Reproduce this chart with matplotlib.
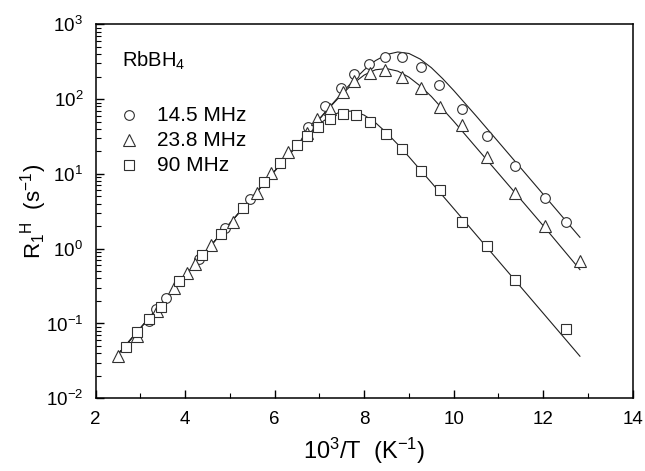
import matplotlib
matplotlib.use('Agg')
import matplotlib.pyplot as plt
from matplotlib.ticker import LogLocator, MultipleLocator, NullFormatter

plt.rcParams['font.family'] = ['Liberation Sans', 'DejaVu Sans']
plt.rcParams['mathtext.fontset'] = 'custom'
plt.rcParams['mathtext.rm'] = 'Liberation Sans'
plt.rcParams['mathtext.it'] = 'Liberation Sans:italic'
plt.rcParams['mathtext.default'] = 'rm'
plt.rcParams['axes.unicode_minus'] = False

# datos medidos (10^3/T, R1)
x_145 = [3.18, 3.35, 3.57, 4.30, 4.90, 5.44, 6.74, 7.12, 7.49, 7.78, 8.10, 8.47,
         8.85, 9.26, 9.66, 10.19, 10.75, 11.36, 12.05, 12.50]
r_145 = [0.108, 0.155, 0.217, 0.72, 1.88, 4.57, 42, 81, 139, 217, 294, 362,
         369, 271, 154, 73.8, 32.4, 12.9, 4.8, 2.3]

x_238 = [2.49, 2.93, 3.36, 3.76, 4.04, 4.22, 4.58, 5.06, 5.60, 5.92, 6.29, 6.72,
         6.95, 7.23, 7.52, 7.78, 8.12, 8.47, 8.85, 9.26, 9.70, 10.19, 10.75,
         11.36, 12.05, 12.82]
r_238 = [0.037, 0.069, 0.147, 0.30, 0.47, 0.62, 1.12, 2.3, 5.6, 10.4, 19.5, 35,
         54, 73, 124, 176, 221, 242, 200, 139, 79, 45, 17,
         5.5, 2.03, 0.69]

x_90 = [2.67, 2.93, 3.18, 3.46, 3.87, 4.37, 4.80, 5.30, 5.77, 6.12, 6.50, 6.73,
        6.97, 7.24, 7.52, 7.81, 8.12, 8.48, 8.85, 9.27, 9.70, 10.19, 10.75,
        11.36, 12.50]
r_90 = [0.049, 0.076, 0.114, 0.168, 0.37, 0.82, 1.57, 3.47, 7.9, 13.9, 24, 32,
        42, 55, 63, 61, 49, 34, 21.4, 11, 6.0, 2.25, 1.09,
        0.38, 0.085]

# curvas de ajuste
xf_145 = [2.5, 4, 5, 6, 6.5, 7, 7.25, 7.5, 7.75, 8, 8.25, 8.5, 8.75, 9, 9.25,
          9.5, 9.75, 10, 10.5, 11, 11.5, 12, 12.82]
rf_145 = [0.0389, 0.437, 2.19, 10.96, 24.5, 54.7, 81.3, 120.2, 174.6, 246.0,
          326.6, 394.5, 426.6, 407.4, 342.8, 263.0, 188.4, 130.3, 59.6, 26.7,
          11.94, 5.33, 1.42]

xf_238 = [2.5, 4, 5, 6, 6.5, 7, 7.25, 7.5, 7.75, 8, 8.25, 8.5, 8.75, 9, 9.25,
          9.5, 10, 10.5, 11, 11.5, 12, 12.82]
rf_238 = [0.0389, 0.437, 2.19, 10.96, 24.4, 54.2, 80.0, 115.6, 161.1, 209.9,
          246.6, 255.9, 236.6, 196.3, 150.0, 108.4, 50.5, 22.6, 10.14, 4.54,
          2.03, 0.525]

xf_90 = [2.5, 4, 5, 6, 6.5, 6.75, 7, 7.25, 7.5, 7.75, 8, 8.25, 8.5, 8.75, 9,
         9.5, 10, 11, 12, 12.82]
rf_90 = [0.0389, 0.437, 2.19, 10.89, 23.7, 34.0, 46.6, 59.6, 68.4, 69.2, 61.0,
         48.4, 35.4, 24.8, 16.9, 7.66, 3.44, 0.686, 0.137, 0.0365]

etiquetas = ['14.5 MHz', '23.8 MHz', '90 MHz']
marcadores = ['o', '^', 's']
tam = [7, 8, 7]

fig = plt.figure(figsize=(6.45, 4.71), dpi=100)
ax = fig.add_axes([0.1484, 0.1544, 0.8326, 0.794])

for xf, rf in [(xf_145, rf_145), (xf_238, rf_238), (xf_90, rf_90)]:
    ax.plot(xf, rf, color='#202020', lw=0.8, zorder=2)

datos = [(x_145, r_145), (x_238, r_238), (x_90, r_90)]
for (xd, rd), m, s in zip(datos, marcadores, tam):
    ax.plot(xd, rd, linestyle='none', marker=m, ms=s, mfc='white',
            mec='#303030', mew=0.8, zorder=3)

ax.set_yscale('log')
ax.set_xlim(2, 14)
ax.set_ylim(1e-2, 1e3)
ax.xaxis.set_major_locator(MultipleLocator(2))
ax.xaxis.set_minor_locator(MultipleLocator(1))
ax.yaxis.set_major_locator(LogLocator(base=10, numticks=10))
ax.yaxis.set_minor_locator(LogLocator(base=10, subs=range(2, 10), numticks=10))
ax.yaxis.set_minor_formatter(NullFormatter())
ax.tick_params(which='both', direction='in', top=False, right=False,
               labelsize=13.5)
ax.tick_params(axis='x', pad=9)
ax.tick_params(axis='y', pad=9)
ax.tick_params(which='major', length=6, width=1)
ax.tick_params(which='minor', length=3.5, width=0.8)
for sp in ax.spines.values():
    sp.set_linewidth(1.1)

ax.set_xlabel('10$^3$/T  (K$^{-1}$)', fontsize=17, labelpad=6)
ax.set_ylabel('R$_1$$^{\\rm H}$  (s$^{-1}$)', fontsize=16, labelpad=-2)

# leyenda dibujada a mano
ax.text(0.049, 0.886, 'RbBH$_4$', transform=ax.transAxes, fontsize=14.5,
        va='baseline', ha='left')
filas_y = [0.758, 0.691, 0.624]
base_y = [0.741, 0.675, 0.608]
for m, s, lab, yy, yb in zip(marcadores, tam, etiquetas, filas_y, base_y):
    ax.plot([0.062], [yy], transform=ax.transAxes, linestyle='none', marker=m,
            ms=s, mfc='white', mec='#303030', mew=0.8)
    ax.text(0.114, yb, lab, transform=ax.transAxes, fontsize=15,
            va='baseline', ha='left')

fig.savefig('out.png', dpi=100)
